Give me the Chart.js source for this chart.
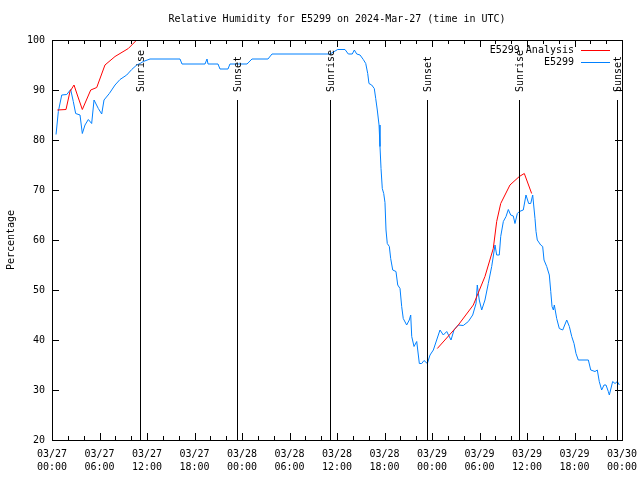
<!DOCTYPE html>
<html>
<head>
<meta charset="utf-8">
<script src="https://cdn.jsdelivr.net/npm/chart.js@4/dist/chart.umd.min.js"></script>
<style>
  body { margin: 0; background: #fff; }
  #wrap { width: 640px; height: 480px; }
</style>
</head>
<body>
<div id="wrap"><canvas id="myChart" width="640" height="480"></canvas></div>
<script>
// hours since 03/27 00:00 UTC
const stationHours = [0.51, 0.80, 1.23, 1.86, 2.36, 2.69, 2.99, 3.54, 3.83, 4.17, 4.59, 5.01, 5.31, 5.85, 6.28, 6.57, 7.24, 7.96, 8.59, 9.44, 10.07, 10.70, 11.12, 11.53, 12.38, 16.17, 16.42, 19.33, 19.58, 19.71, 20.97, 21.22, 22.23, 22.48, 24.63, 25.26, 27.28, 27.79, 35.12, 36.09, 37.01, 37.43, 37.93, 38.19, 38.49, 38.91, 39.32, 39.63, 39.88, 40.04, 40.38, 40.71, 40.89, 41.09, 41.31, 41.43, 41.56, 41.72, 41.90, 42.06, 42.19, 42.35, 42.61, 42.78, 43.04, 43.45, 43.67, 43.96, 44.17, 44.37, 44.80, 45.13, 45.31, 45.44, 45.73, 46.07, 46.40, 46.70, 46.99, 47.41, 47.75, 48.17, 48.59, 49.01, 49.43, 49.86, 50.40, 50.78, 51.32, 51.95, 52.59, 53.14, 53.56, 53.72, 53.97, 54.28, 54.69, 55.11, 55.54, 55.96, 56.17, 56.50, 56.68, 57.01, 57.35, 57.64, 57.94, 58.27, 58.48, 58.78, 59.03, 59.53, 59.87, 60.21, 60.47, 60.72, 61.01, 61.14, 61.30, 61.73, 61.98, 62.15, 62.49, 62.82, 63.00, 63.16, 63.33, 63.45, 63.75, 64.08, 64.51, 65.02, 65.35, 65.65, 65.94, 66.19, 66.48, 67.75, 68.05, 68.59, 68.88, 69.13, 69.43, 69.73, 69.98, 70.27, 70.40, 70.82, 71.12, 71.41, 71.66];
const stationRH = [81.1, 85.7, 89.0, 89.1, 90.1, 87.7, 85.3, 85.0, 81.3, 83.0, 84.1, 83.3, 88.0, 86.3, 85.2, 88.0, 89.3, 91.0, 92.1, 93.0, 94.1, 95.0, 95.3, 95.7, 96.2, 96.2, 95.2, 95.2, 96.2, 95.2, 95.2, 94.2, 94.2, 95.2, 95.2, 96.2, 96.2, 97.2, 97.2, 98.1, 98.1, 97.2, 97.2, 98.0, 97.2, 97.0, 96.1, 95.3, 93.3, 91.3, 91.0, 90.3, 88.3, 86.0, 83.0, 78.7, 74.3, 70.3, 69.3, 67.5, 62.0, 59.3, 58.7, 56.3, 54.0, 53.7, 51.0, 50.3, 46.7, 44.3, 43.0, 44.0, 45.0, 40.7, 38.7, 39.7, 35.3, 35.3, 35.9, 35.3, 37.0, 38.0, 40.0, 42.0, 41.0, 41.7, 40.0, 42.0, 43.0, 42.9, 43.7, 45.0, 47.3, 51.0, 48.0, 46.0, 48.0, 51.3, 54.7, 59.0, 57.0, 57.0, 60.7, 63.7, 64.7, 66.1, 65.0, 64.8, 63.3, 65.3, 65.7, 66.0, 69.0, 67.3, 67.3, 69.0, 64.3, 61.7, 60.0, 59.0, 58.7, 56.0, 54.7, 53.0, 49.7, 46.7, 46.0, 47.0, 44.3, 42.3, 42.0, 44.0, 42.7, 40.7, 39.3, 37.3, 36.0, 36.0, 34.0, 33.7, 34.0, 31.7, 30.0, 31.0, 31.0, 29.7, 29.0, 31.7, 31.3, 31.7, 31.0];

// analysis series, null = gap
const analysisHours = [0.67, 1.77, 2.27, 2.78, 3.20, 3.83, 4.89, 5.65, 6.69, 7.96, 9.64, 10.70, 11.50, 20.0, 48.67, 51.32, 53.22, 54.69, 55.74, 56.17, 56.68, 57.85, 59.03, 59.66, 60.59];
const analysisRH = [86.0, 86.1, 89.7, 91.0, 89.0, 86.1, 90.0, 90.5, 95.0, 96.7, 98.3, 100.0, 101.5, null, 38.3, 43.0, 47.0, 52.7, 58.3, 63.7, 67.3, 71.0, 72.7, 73.3, 69.3];

const sunHours = [11.12, 23.37, 35.12, 47.37, 58.99, 71.37];
const sunLabels = ['Sunrise', 'Sunset', 'Sunrise', 'Sunset', 'Sunrise', 'Sunset'];
const sunLineTop = 88; // les lignes s'arrêtent sous le texte

const titleText = 'Relative Humidity for E5299 on 2024-Mar-27 (time in UTC)';
const yTitle = 'Percentage';
const seriesNames = ['E5299 Analysis', 'E5299'];
const seriesColors = ['#ff0000', 'rgb(0,128,255)'];

const FONT = '10px "DejaVu Sans Mono", monospace';

function toPoints(xs, ys) {
    return xs.map((x, i) => ({ x: x, y: ys[i] }));
}

const datasets = [
    { label: seriesNames[0], data: toPoints(analysisHours, analysisRH), borderColor: seriesColors[0], borderWidth: 1, pointRadius: 0, spanGaps: false, tension: 0 },
    { label: seriesNames[1], data: toPoints(stationHours, stationRH), borderColor: seriesColors[1], borderWidth: 1, pointRadius: 0, tension: 0 }
];

const decorPlugin = {
    id: 'decor',
    afterDraw(chart) {
        const ctx = chart.ctx;
        const { left, right, top, bottom } = chart.chartArea;
        const x = chart.scales.x, y = chart.scales.y;
        ctx.save();
        ctx.strokeStyle = '#000';
        ctx.fillStyle = '#000';
        ctx.lineWidth = 1;

        // cadre
        ctx.strokeRect(Math.round(left) + 0.5, Math.round(top) + 0.5, Math.round(right - left), Math.round(bottom - top));

        // graduations vers l'intérieur
        ctx.beginPath();
        for (let v = 0; v <= 72; v += 2) {
            const px = Math.round(x.getPixelForValue(v)) + 0.5;
            const len = v % 6 === 0 ? 7 : 4;
            ctx.moveTo(px, bottom); ctx.lineTo(px, bottom - len);
            ctx.moveTo(px, top); ctx.lineTo(px, top + len);
        }
        for (let v = 20; v <= 100; v += 10) {
            const py = Math.round(y.getPixelForValue(v)) + 0.5;
            ctx.moveTo(left, py); ctx.lineTo(left + 7, py);
            ctx.moveTo(right, py); ctx.lineTo(right - 7, py);
        }
        // lignes lever/coucher du soleil
        sunHours.forEach(h => {
            const px = Math.round(x.getPixelForValue(h)) + 0.5;
            ctx.moveTo(px, Math.round(y.getPixelForValue(sunLineTop)));
            ctx.lineTo(px, bottom);
        });
        ctx.stroke();

        ctx.font = FONT;

        // titre
        ctx.textAlign = 'center';
        ctx.textBaseline = 'middle';
        ctx.fillText(titleText, (left + right) / 2, 19);

        // titre axe Y
        ctx.save();
        ctx.translate(11, (top + bottom) / 2);
        ctx.rotate(-Math.PI / 2);
        ctx.fillText(yTitle, 0, 0);
        ctx.restore();

        // étiquettes soleil
        sunHours.forEach((h, i) => {
            const px = Math.round(x.getPixelForValue(h));
            ctx.save();
            ctx.translate(px + 1, 92);
            ctx.rotate(-Math.PI / 2);
            ctx.textAlign = 'left';
            ctx.textBaseline = 'middle';
            ctx.fillText(sunLabels[i], 0, 0);
            ctx.restore();
        });

        // légende
        ctx.textAlign = 'right';
        seriesNames.forEach((name, i) => {
            const ly = 50 + i * 12;
            ctx.fillStyle = '#000';
            ctx.fillText(name, 574, ly);
            ctx.strokeStyle = seriesColors[i];
            ctx.beginPath();
            ctx.moveTo(581, ly + 0.5);
            ctx.lineTo(610, ly + 0.5);
            ctx.stroke();
        });
        ctx.restore();
    }
};

const ctx = document.getElementById('myChart').getContext('2d');
new Chart(ctx, {
    type: 'line',
    data: { datasets: datasets },
    options: {
        responsive: false,
        animation: false,
        layout: { padding: { left: 0, top: 40, right: 18, bottom: 0 } },
        scales: {
            x: {
                type: 'linear',
                min: 0,
                max: 72,
                afterFit: (scale) => {
                    scale.height = 40;
                    scale.paddingLeft = 0;
                    scale.paddingRight = 0;
                },
                grid: { display: false, drawTicks: false },
                border: { display: false },
                ticks: {
                    stepSize: 6,
                    autoSkip: false,
                    maxRotation: 0,
                    padding: 8,
                    color: '#000',
                    font: { family: '"DejaVu Sans Mono", monospace', size: 10, lineHeight: 1.3 },
                    callback: (v) => {
                        const day = 27 + Math.floor(v / 24);
                        const hr = v % 24;
                        return ['03/' + day, String(hr).padStart(2, '0') + ':00'];
                    }
                }
            },
            y: {
                min: 20,
                max: 100,
                afterFit: (scale) => {
                    scale.width = 52;
                    scale.paddingTop = 0;
                    scale.paddingBottom = 0;
                },
                grid: { display: false, drawTicks: false },
                border: { display: false },
                ticks: {
                    stepSize: 10,
                    padding: 7,
                    color: '#000',
                    font: { family: '"DejaVu Sans Mono", monospace', size: 10 }
                }
            }
        },
        plugins: {
            legend: { display: false },
            tooltip: { enabled: false }
        }
    },
    plugins: [decorPlugin]
});
</script>
</body>
</html>
